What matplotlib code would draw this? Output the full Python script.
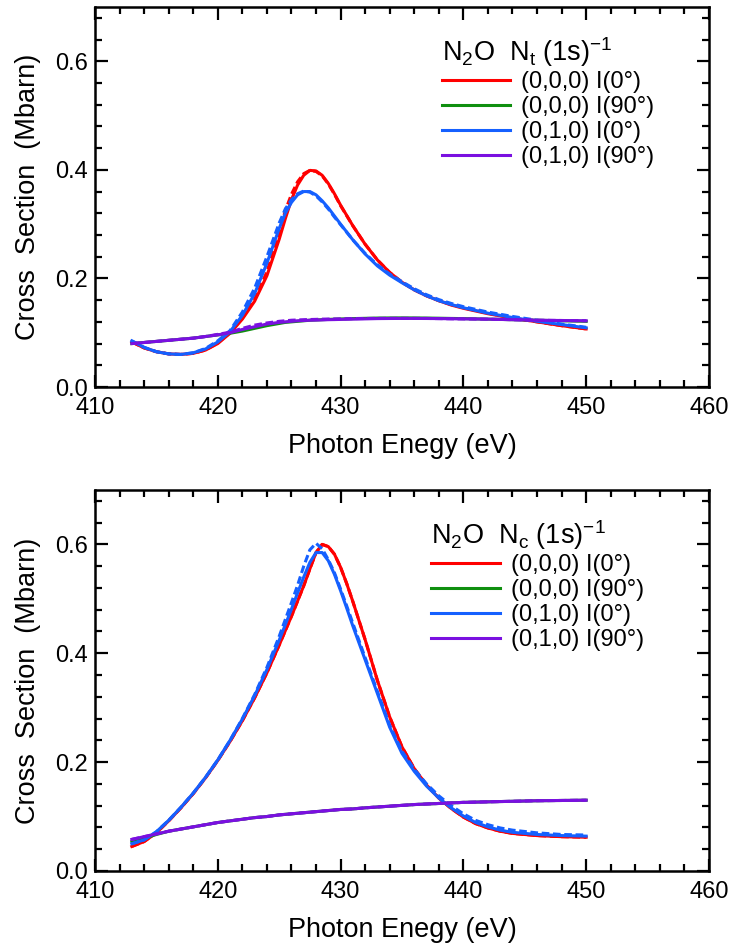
import matplotlib
matplotlib.use("Agg")
import matplotlib.pyplot as plt
from matplotlib.ticker import MultipleLocator

plt.rcParams['font.family'] = ['Liberation Sans', 'DejaVu Sans']
plt.rcParams['mathtext.fontset'] = 'custom'
plt.rcParams['mathtext.rm'] = 'Liberation Sans'
plt.rcParams['mathtext.it'] = 'Liberation Sans:italic'

# ---- N_t (1s)^-1 panel ----
e_t = [413, 414, 415, 416, 417, 418, 419, 420, 421, 422, 423, 424, 425, 425.5,
       426, 426.5, 427, 427.5, 428, 428.5, 429, 429.5, 430, 431, 432, 433, 434,
       435, 436, 437, 438, 439, 440, 442, 444, 446, 448, 450]
t_000_0 = [0.083, 0.072, 0.065, 0.061, 0.060, 0.062, 0.068, 0.080, 0.099, 0.125,
           0.158, 0.205, 0.272, 0.310, 0.345, 0.372, 0.390, 0.399, 0.398, 0.390,
           0.375, 0.356, 0.335, 0.297, 0.263, 0.234, 0.211, 0.193, 0.179, 0.168,
           0.159, 0.151, 0.145, 0.135, 0.127, 0.120, 0.113, 0.107]
t_000_0d = [0.083, 0.072, 0.065, 0.061, 0.060, 0.062, 0.068, 0.081, 0.100, 0.127,
            0.162, 0.212, 0.285, 0.325, 0.355, 0.378, 0.393, 0.399, 0.397, 0.389,
            0.374, 0.355, 0.334, 0.297, 0.263, 0.234, 0.211, 0.193, 0.179, 0.168,
            0.159, 0.152, 0.146, 0.136, 0.127, 0.120, 0.113, 0.107]
t_000_90 = [0.080, 0.082, 0.084, 0.086, 0.088, 0.090, 0.093, 0.096, 0.099, 0.103,
            0.108, 0.113, 0.117, 0.119, 0.120, 0.121, 0.122, 0.123, 0.1235, 0.124,
            0.1245, 0.125, 0.1253, 0.126, 0.1265, 0.127, 0.1272, 0.1273, 0.1272,
            0.127, 0.1267, 0.1263, 0.126, 0.125, 0.124, 0.123, 0.122, 0.121]
t_010_0 = [0.085, 0.073, 0.065, 0.061, 0.060, 0.063, 0.070, 0.083, 0.102, 0.132,
           0.172, 0.228, 0.292, 0.320, 0.340, 0.354, 0.360, 0.360, 0.354, 0.343,
           0.330, 0.315, 0.300, 0.271, 0.245, 0.223, 0.206, 0.192, 0.179, 0.168,
           0.159, 0.152, 0.146, 0.136, 0.128, 0.121, 0.115, 0.109]
t_010_0d = [0.085, 0.073, 0.065, 0.061, 0.060, 0.063, 0.071, 0.085, 0.104, 0.138,
            0.182, 0.240, 0.302, 0.328, 0.345, 0.356, 0.361, 0.359, 0.352, 0.341,
            0.328, 0.313, 0.299, 0.271, 0.246, 0.225, 0.208, 0.194, 0.181, 0.170,
            0.161, 0.154, 0.148, 0.138, 0.130, 0.123, 0.116, 0.110]
t_010_90 = [0.080, 0.082, 0.084, 0.086, 0.088, 0.090, 0.093, 0.096, 0.100, 0.106,
            0.111, 0.116, 0.119, 0.120, 0.121, 0.122, 0.1225, 0.123, 0.1232, 0.1236,
            0.124, 0.1242, 0.1245, 0.125, 0.1255, 0.126, 0.1262, 0.1263, 0.1263,
            0.1262, 0.126, 0.1257, 0.1255, 0.125, 0.124, 0.123, 0.1225, 0.122]
t_010_90d = [0.080, 0.082, 0.084, 0.086, 0.088, 0.090, 0.093, 0.097, 0.101, 0.108,
             0.114, 0.118, 0.121, 0.122, 0.123, 0.1235, 0.124, 0.1243, 0.1246, 0.125,
             0.1252, 0.1254, 0.1256, 0.126, 0.1262, 0.1264, 0.1265, 0.1265, 0.1264,
             0.1263, 0.126, 0.1257, 0.1255, 0.125, 0.124, 0.123, 0.1225, 0.122]

# ---- N_c (1s)^-1 panel ----
e_c = [413, 414, 415, 416, 417, 418, 419, 420, 421, 422, 423, 424, 425, 426,
       426.5, 427, 427.5, 428, 428.5, 429, 429.5, 430, 430.5, 431, 432, 433, 434,
       435, 436, 437, 438, 439, 440, 441, 442, 443, 444, 446, 448, 450]
c_000_0 = [0.045, 0.054, 0.070, 0.092, 0.116, 0.142, 0.171, 0.203, 0.238, 0.276,
           0.318, 0.364, 0.415, 0.468, 0.496, 0.524, 0.555, 0.585, 0.600, 0.596,
           0.582, 0.558, 0.528, 0.495, 0.425, 0.350, 0.283, 0.228, 0.188, 0.158,
           0.134, 0.115, 0.099, 0.087, 0.079, 0.073, 0.069, 0.065, 0.063, 0.062]
c_000_90 = [0.054, 0.060, 0.067, 0.073, 0.077, 0.081, 0.085, 0.089, 0.092, 0.095,
            0.098, 0.100, 0.103, 0.105, 0.106, 0.107, 0.108, 0.109, 0.110, 0.111,
            0.112, 0.113, 0.1135, 0.114, 0.116, 0.1175, 0.119, 0.1205, 0.122, 0.123,
            0.124, 0.125, 0.126, 0.1265, 0.127, 0.1275, 0.128, 0.129, 0.1295, 0.130]
c_010_0 = [0.050, 0.057, 0.072, 0.093, 0.117, 0.143, 0.172, 0.204, 0.240, 0.279,
           0.322, 0.370, 0.424, 0.481, 0.511, 0.540, 0.567, 0.585, 0.585, 0.570,
           0.545, 0.515, 0.483, 0.450, 0.388, 0.326, 0.264, 0.216, 0.183, 0.156,
           0.134, 0.116, 0.101, 0.089, 0.081, 0.075, 0.071, 0.067, 0.065, 0.064]
c_010_0d = [0.050, 0.057, 0.072, 0.093, 0.117, 0.143, 0.172, 0.204, 0.240, 0.280,
            0.324, 0.374, 0.431, 0.493, 0.525, 0.560, 0.590, 0.602, 0.592, 0.572,
            0.548, 0.518, 0.487, 0.455, 0.392, 0.330, 0.268, 0.220, 0.187, 0.160,
            0.138, 0.120, 0.105, 0.093, 0.085, 0.079, 0.075, 0.070, 0.067, 0.066]
c_010_90 = [0.058, 0.063, 0.068, 0.073, 0.077, 0.081, 0.085, 0.089, 0.092, 0.095,
            0.098, 0.100, 0.103, 0.105, 0.106, 0.107, 0.108, 0.109, 0.110, 0.111,
            0.112, 0.113, 0.1135, 0.114, 0.116, 0.1175, 0.119, 0.1205, 0.122, 0.123,
            0.124, 0.125, 0.126, 0.1265, 0.127, 0.1275, 0.128, 0.129, 0.1295, 0.130]

labels = ['(0,0,0) I(0°)', '(0,0,0) I(90°)', '(0,1,0) I(0°)', '(0,1,0) I(90°)']
colors = ['#ff0000', '#0f8f0f', '#1560ff', '#7a10e0']

fig = plt.figure(figsize=(7.29, 9.43), dpi=100)
ax1 = fig.add_axes([0.1303, 0.5896, 0.8422, 0.403])
ax2 = fig.add_axes([0.1303, 0.0764, 0.8422, 0.404])

lw = 2.2
dash = (2.5, 1.2)

# top panel
ax1.plot(e_t, t_000_0, color=colors[0], lw=lw, label=labels[0])
ax1.plot(e_t, t_000_0d, color=colors[0], lw=lw, dashes=dash)
ax1.plot(e_t, t_000_90, color=colors[1], lw=lw, label=labels[1])
ax1.plot(e_t, t_010_0, color=colors[2], lw=lw, label=labels[2])
ax1.plot(e_t, t_010_0d, color=colors[2], lw=lw, dashes=dash)
ax1.plot(e_t, t_010_90, color=colors[3], lw=lw, label=labels[3])
ax1.plot(e_t, t_010_90d, color=colors[3], lw=lw, dashes=dash)

# bottom panel
ax2.plot(e_c, c_000_0, color=colors[0], lw=lw, label=labels[0])
ax2.plot(e_c, c_000_0, color=colors[0], lw=lw, dashes=dash)
ax2.plot(e_c, c_000_90, color=colors[1], lw=lw, label=labels[1])
ax2.plot(e_c, c_010_0, color=colors[2], lw=lw, label=labels[2])
ax2.plot(e_c, c_010_0d, color=colors[2], lw=lw, dashes=dash)
ax2.plot(e_c, c_010_90, color=colors[3], lw=lw, label=labels[3])
ax2.plot(e_c, c_010_90, color=colors[3], lw=lw, dashes=dash)

titles = [r'N$_2$O  N$_\mathrm{t}$ (1s)$^{-1}$', r'N$_2$O  N$_\mathrm{c}$ (1s)$^{-1}$']
anchors = [(0.565, 0.927), (0.548, 0.927)]

for ax, title, anchor in zip([ax1, ax2], titles, anchors):
    ax.set_xlim(410, 460)
    ax.set_ylim(0, 0.7)
    ax.xaxis.set_major_locator(MultipleLocator(10))
    ax.xaxis.set_minor_locator(MultipleLocator(2))
    ax.yaxis.set_major_locator(MultipleLocator(0.2))
    ax.yaxis.set_minor_locator(MultipleLocator(0.04))
    ax.yaxis.set_major_formatter(plt.FormatStrFormatter('%.1f'))
    ax.tick_params(which='both', direction='in', top=True, right=True, width=1.6,
                   labelsize=17)
    ax.tick_params(which='major', length=9)
    ax.tick_params(which='minor', length=5)
    ax.tick_params(axis='x', pad=7)
    ax.tick_params(axis='y', pad=5)
    for s in ax.spines.values():
        s.set_linewidth(1.8)
    ax.set_xlabel('Photon Enegy (eV)', fontsize=19.5, labelpad=10)
    ax.set_ylabel('Cross  Section  (Mbarn)', fontsize=19.5, labelpad=10)
    leg = ax.legend(loc='upper left', bbox_to_anchor=anchor, frameon=False,
                    fontsize=17, title=title, title_fontsize=19.5,
                    alignment='left', handlelength=2.9, handletextpad=0.45,
                    labelspacing=0.12, borderpad=0, borderaxespad=0)

fig.savefig('out.png', dpi=100)
